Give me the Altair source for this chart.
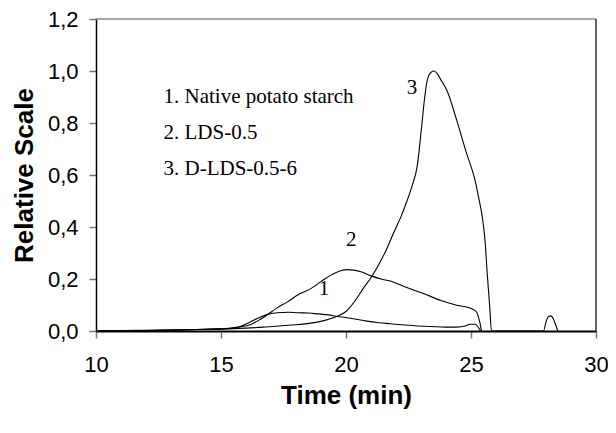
import altair as alt
import pandas as pd

# Curve 3: D-LDS-0.5-6
x3 = [10.1, 11, 12, 13, 14, 15, 15.5, 16, 16.7, 17.7, 18.9, 19.6, 20.0, 20.45, 20.7, 21.0,
      21.25, 21.6, 21.9, 22.2, 22.45, 22.65, 22.85, 23.03, 23.15, 23.25, 23.4, 23.52, 23.65,
      23.8, 24.03, 24.43, 24.8, 25.16, 25.3, 25.45, 25.56, 25.65, 25.75, 25.82,
      27.9, 28.0, 28.1, 28.2, 28.3, 28.4, 28.47]
y3 = [0.002, 0.002, 0.003, 0.004, 0.006, 0.008, 0.009, 0.011, 0.015, 0.022, 0.035, 0.055, 0.075,
      0.128, 0.165, 0.205, 0.245, 0.31, 0.376, 0.44, 0.503, 0.56, 0.635, 0.79, 0.9, 0.965, 0.995,
      1.0, 0.99, 0.965, 0.927, 0.81, 0.69, 0.58, 0.516, 0.44, 0.35, 0.22, 0.092, 0.0,
      0.0, 0.035, 0.056, 0.058, 0.045, 0.02, 0.0]

# Curve 2: LDS-0.5
x2 = [10.1, 11, 12, 13, 14, 15, 15.67, 16.2, 16.45, 16.73, 17.26, 17.66, 18.1, 18.59, 19.0,
      19.38, 19.78, 20.05, 20.31, 20.6, 21.0, 21.4, 21.77, 22.4, 23.1, 23.8, 24.43, 25.03,
      25.22, 25.36, 25.42]
y2 = [0.001, 0.002, 0.002, 0.004, 0.006, 0.008, 0.015, 0.025, 0.038, 0.054, 0.09, 0.112, 0.14,
      0.163, 0.19, 0.214, 0.232, 0.236, 0.234, 0.228, 0.212, 0.2, 0.192, 0.168, 0.144, 0.117,
      0.099, 0.086, 0.073, 0.03, 0.0]

# Curve 1: Native potato starch
x1 = [10.1, 11, 12, 13, 14, 15, 15.6, 16.07, 16.45, 16.8, 17.26, 17.7, 18.06, 18.5, 18.86,
      19.3, 19.65, 20.0, 20.31, 20.83, 21.3, 21.77, 22.5, 23.1, 24.0, 24.43, 24.8, 24.96,
      25.16, 25.33, 25.38]
y1 = [0.001, 0.002, 0.002, 0.003, 0.005, 0.008, 0.012, 0.03, 0.048, 0.062, 0.07, 0.072, 0.07,
      0.069, 0.066, 0.062, 0.056, 0.052, 0.047, 0.038, 0.032, 0.028, 0.022, 0.018, 0.015,
      0.015, 0.02, 0.026, 0.026, 0.009, 0.0]

legend_text = ["1. Native potato starch", "2. LDS-0.5", "3. D-LDS-0.5-6"]
legend_x = [12.7, 12.7, 12.7]
legend_y = [0.877, 0.738, 0.599]

curve_label = ["1", "2", "3"]
curve_label_x = [19.12, 20.21, 22.64]
curve_label_y = [0.163, 0.349, 0.933]

x_ticks = [10, 15, 20, 25, 30]
y_ticks = [0, 0.2, 0.4, 0.6, 0.8, 1.0, 1.2]

rows = []
for name, xs, ys in (("1", x1, y1), ("2", x2, y2), ("3", x3, y3)):
    for i, (a, b) in enumerate(zip(xs, ys)):
        rows.append({"series": name, "t": a, "v": b, "order": i})
df = pd.DataFrame(rows)

xscale = alt.Scale(domain=[10, 30], nice=False, zero=False)
yscale = alt.Scale(domain=[0, 1.2], nice=False)

xaxis = alt.Axis(values=x_ticks, title="Time (min)", grid=False, domainColor="#000",
                 domainWidth=2, tickColor="#777", tickWidth=1.5, tickSize=7,
                 labelFlush=False, labelOverlap=False,
                 labelFont="Liberation Sans", labelFontSize=22, labelColor="#000",
                 labelPadding=16, titleFont="Liberation Sans", titleFontSize=26,
                 titleFontWeight="bold", titleColor="#000", titlePadding=7)
yaxis = alt.Axis(values=y_ticks, title="Relative Scale", grid=False, domainColor="#000",
                 domainWidth=1.5, tickColor="#777", tickWidth=1.5, tickSize=7,
                 labelFlush=False, labelOverlap=False,
                 labelFont="Liberation Sans", labelFontSize=22, labelColor="#000",
                 labelPadding=11,
                 labelExpr="replace(format(datum.value, '.1f'), '.', ',')",
                 titleFont="Liberation Sans", titleFontSize=26, titleFontWeight="bold",
                 titleColor="#000", titlePadding=10)

lines = alt.Chart(df).mark_line(strokeWidth=1.1, interpolate="monotone").encode(
    x=alt.X("t:Q", scale=xscale, axis=xaxis),
    y=alt.Y("v:Q", scale=yscale, axis=yaxis),
    detail="series:N",
    order="order:Q",
    color=alt.value("#000"),
)

top_df = pd.DataFrame({"a": [x_ticks[0]], "b": [x_ticks[-1]], "c": [y_ticks[-1]]})
top_rule = alt.Chart(top_df).mark_rule(color="#888", strokeWidth=1.5).encode(
    x=alt.X("a:Q", scale=xscale), x2="b:Q", y=alt.Y("c:Q", scale=yscale))
right_df = pd.DataFrame({"a": [x_ticks[-1]], "c": [y_ticks[0]], "d": [y_ticks[-1]]})
right_rule = alt.Chart(right_df).mark_rule(color="#333", strokeWidth=1.5).encode(
    x=alt.X("a:Q", scale=xscale), y=alt.Y("c:Q", scale=yscale), y2="d:Q")

leg_df = pd.DataFrame({"txt": legend_text, "x": legend_x, "y": legend_y})
legend = alt.Chart(leg_df).mark_text(align="left", baseline="alphabetic",
                                     font="Liberation Serif", fontSize=21,
                                     color="#000").encode(
    x=alt.X("x:Q", scale=xscale), y=alt.Y("y:Q", scale=yscale), text="txt:N")

lab_df = pd.DataFrame({"txt": curve_label, "x": curve_label_x, "y": curve_label_y})
labels = alt.Chart(lab_df).mark_text(align="center", baseline="middle",
                                     font="Liberation Serif", fontSize=21,
                                     color="#000").encode(
    x=alt.X("x:Q", scale=xscale), y=alt.Y("y:Q", scale=yscale), text="txt:N")

chart = alt.layer(top_rule, right_rule, lines, legend, labels).properties(
    width=500, height=312, autosize="none",
    padding={"left": 88, "top": 11, "right": 12, "bottom": 94},
    background="#ffffff",
).configure_view(stroke=None)

chart.save("out.html", embed_options={"renderer": "svg", "actions": False})
